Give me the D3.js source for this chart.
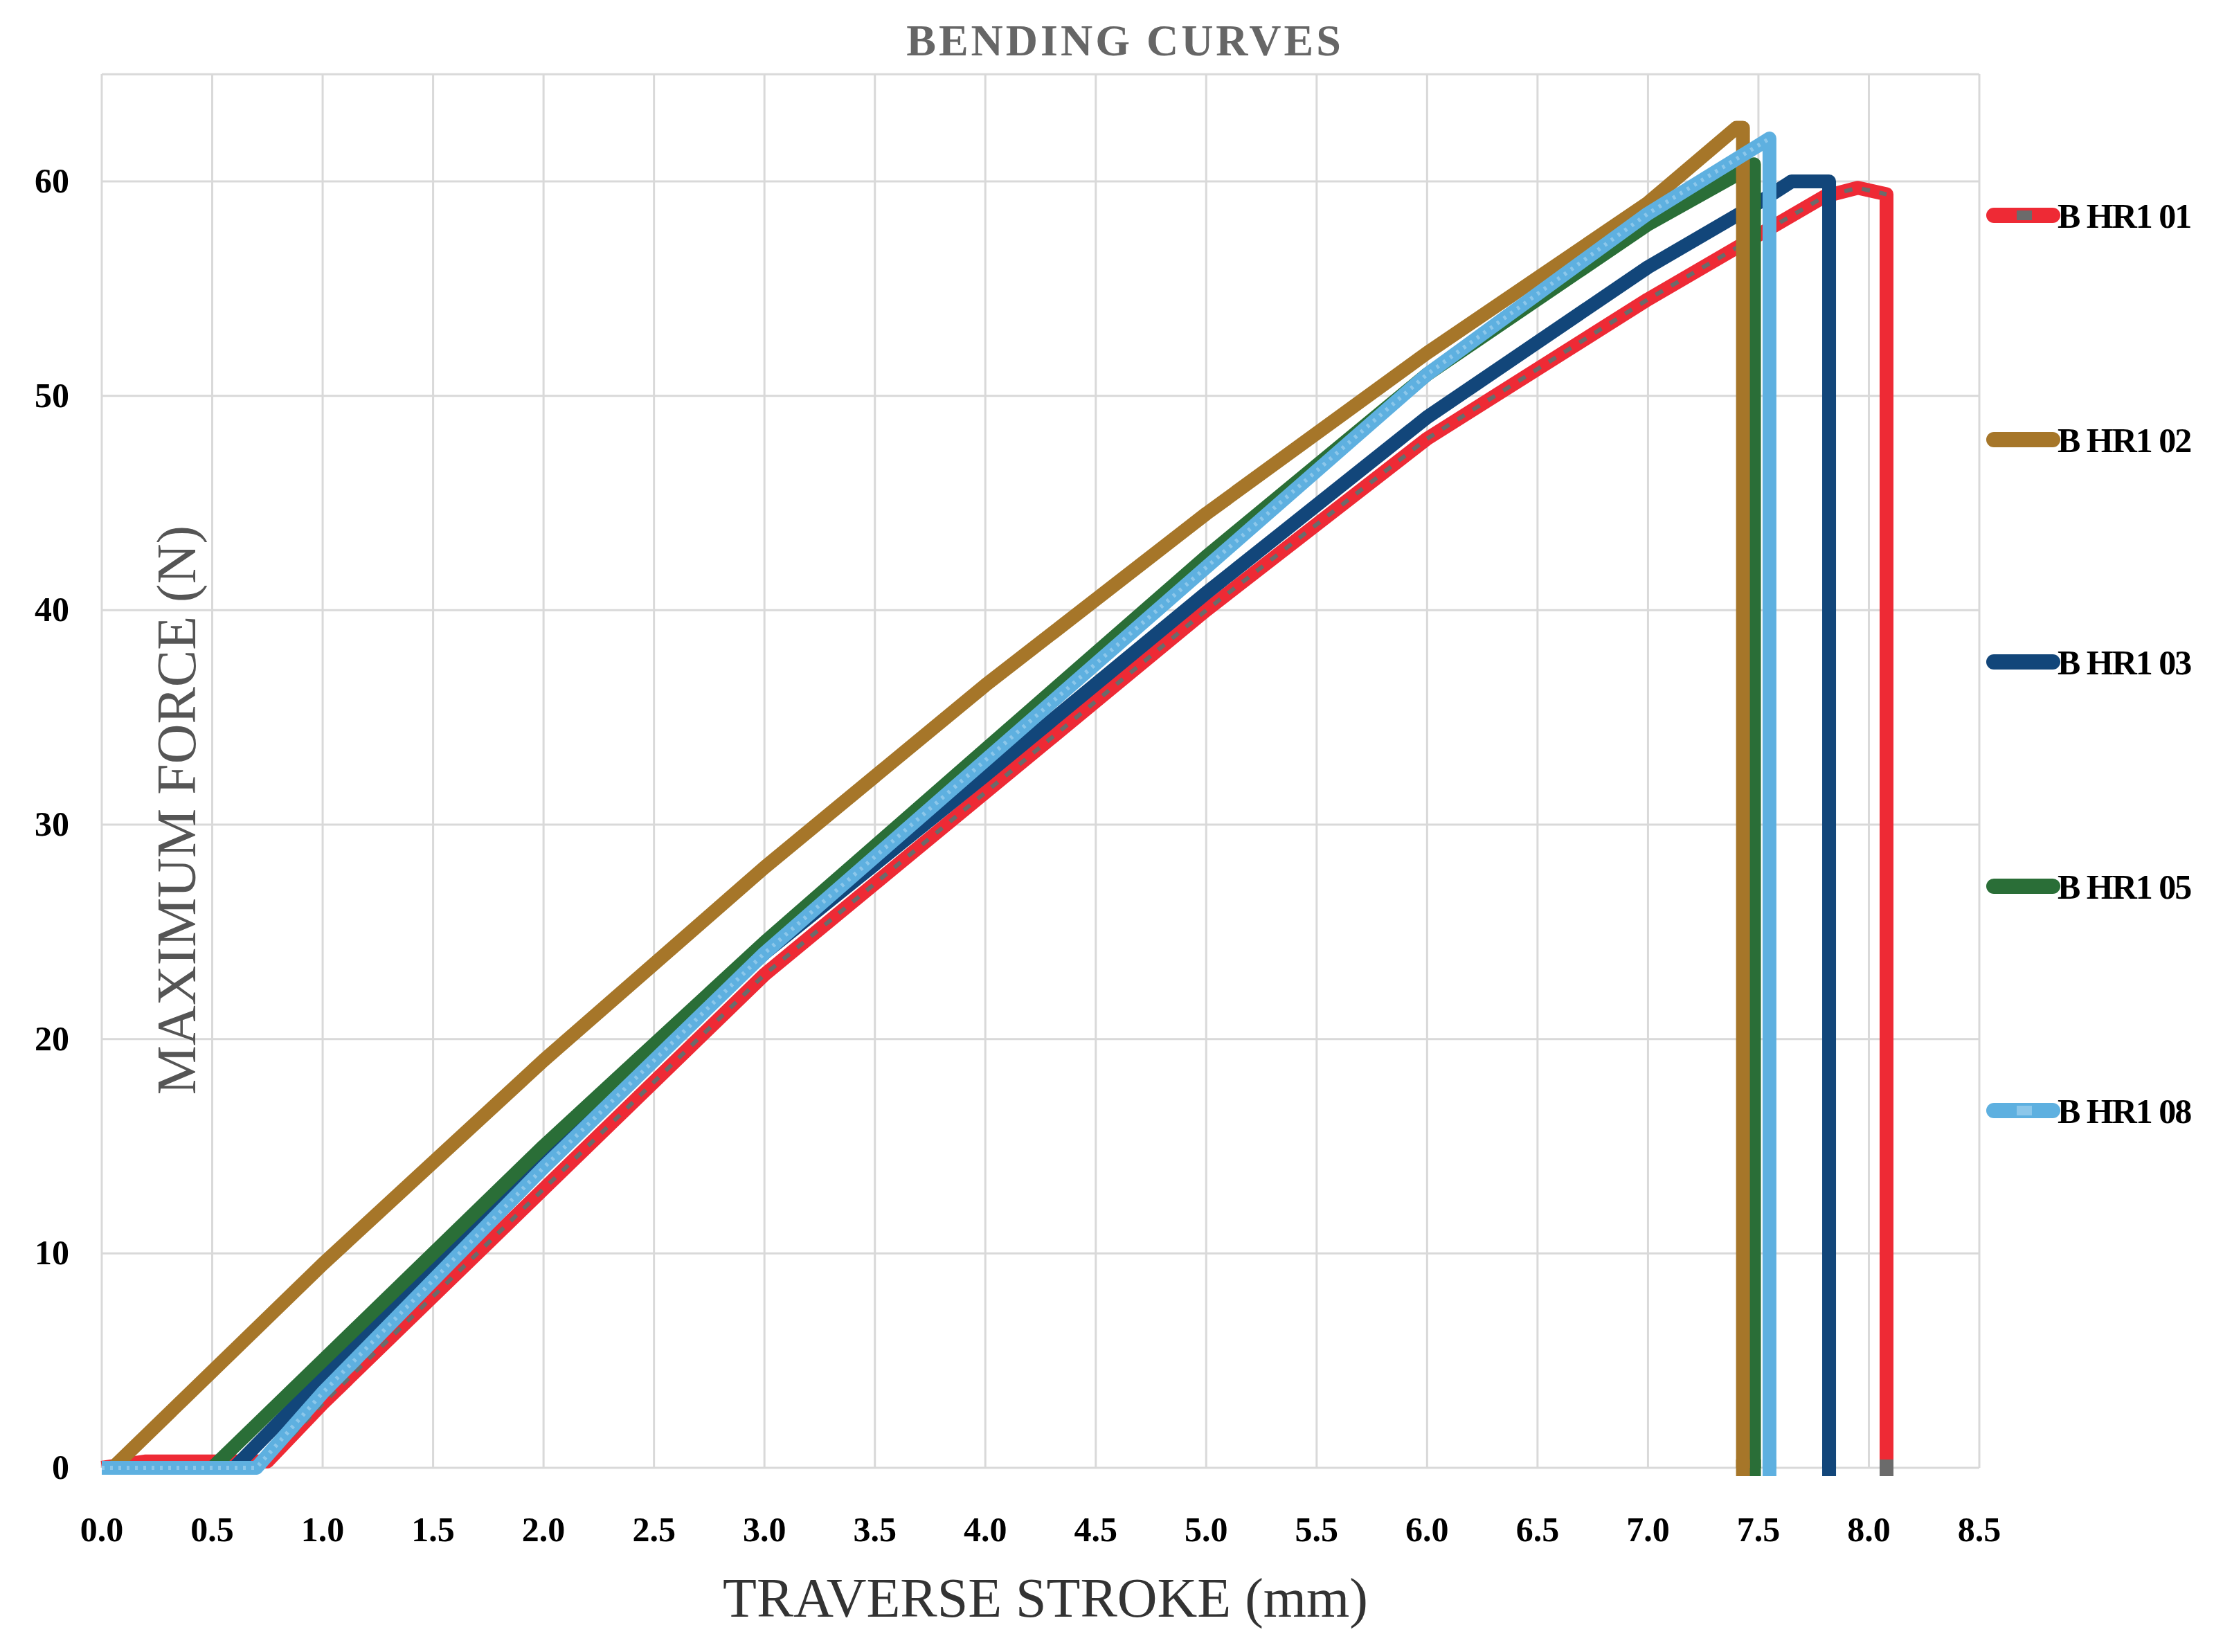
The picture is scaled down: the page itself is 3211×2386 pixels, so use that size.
<!DOCTYPE html>
<html><head><meta charset="utf-8">
<script src="https://cdn.jsdelivr.net/npm/d3@7"></script>
<style>body{margin:0;background:#fff}</style></head>
<body><svg id="c" width="3211" height="2386"></svg>
<script>
const seriesNames = ["B HR1 01","B HR1 02","B HR1 03","B HR1 05","B HR1 08"];
const seriesColors = ["#ee2a35","#a67629","#12467a","#2a6e37","#5eb0e0"];
const xTicks = [0,0.5,1,1.5,2,2.5,3,3.5,4,4.5,5,5.5,6,6.5,7,7.5,8,8.5];
const yTicks = [0,10,20,30,40,50,60];
const s01x = [0,0.2,0.75,1.0,2.0,3.0,4.0,5.0,6.0,7.0,7.5,7.8,7.95,8.08,8.08];
const s01y = [0,0.3,0.3,3,13,23,31.5,40,48,54.5,57.5,59.3,59.7,59.4,0];
const s02x = [0,0.05,1.0,2.0,3.0,4.0,5.0,6.0,7.0,7.4,7.43,7.43];
const s02y = [0,0,9.5,19,28,36.5,44.5,52,59,62.5,62.5,0];
const s03x = [0,0.6,1.0,2.0,3.0,4.0,5.0,6.0,7.0,7.5,7.65,7.82,7.82];
const s03y = [0,0,4.2,14.5,24,32.3,40.8,49,56,59,60,60,0];
const s05x = [0,0.5,1.0,2.0,3.0,4.0,5.0,6.0,7.0,7.4,7.48,7.48];
const s05y = [0,0,5,15,24.5,33.5,42.5,51,58,60.3,60.8,0];
const s08x = [0,0.7,1.0,2.0,3.0,4.0,5.0,6.0,7.0,7.55,7.55];
const s08y = [0,0,3.5,14,24,33,42,51,58.5,62,0];
const allX = [s01x,s02x,s03x,s05x,s08x];
const allY = [s01y,s02y,s03y,s05y,s08y];

const svg = d3.select("#c");
const x = d3.scaleLinear().domain([0,8.5]).range([147,2859]);
const y = d3.scaleLinear().domain([0,60]).range([2120,262]);
const g = svg.append("g");
// grid
g.selectAll(".vx").data(xTicks).join("line").attr("x1",d=>x(d)).attr("x2",d=>x(d))
 .attr("y1",107).attr("y2",y(0)).attr("stroke","#d9d9d9").attr("stroke-width",3);
g.selectAll(".hy").data(yTicks.concat([65])).join("line").attr("x1",x(0)).attr("x2",x(8.5))
 .attr("y1",d=>y(d)).attr("y2",d=>y(d)).attr("stroke","#d9d9d9").attr("stroke-width",3);
// tick labels
const tf = "'Liberation Serif','DejaVu Serif',serif";
g.selectAll(".xl").data(xTicks).join("text").attr("x",d=>x(d)).attr("y",2226)
 .attr("text-anchor","middle").attr("font-family",tf).attr("font-weight","bold").attr("font-size",50)
 .text(d=>d.toFixed(1));
g.selectAll(".yl").data(yTicks).join("text").attr("x",100).attr("y",d=>y(d)+16)
 .attr("text-anchor","end").attr("font-family",tf).attr("font-weight","bold").attr("font-size",50)
 .text(d=>d);
// lines
const line = d3.line().x(d=>x(d[0])).y(d=>y(d[1]));
const order = [0,2,3,1,4];
order.forEach(i=>{
  const pts = allX[i].map((v,k)=>[v,allY[i][k]]);
  svg.append("path").attr("d",line(pts)).attr("fill","none").attr("stroke",seriesColors[i])
   .attr("stroke-width",20).attr("stroke-linejoin","round");
  if(i===0) svg.append("path").attr("d",line(pts.slice(2,-1))).attr("fill","none").attr("stroke","#6b6b6b")
   .attr("stroke-width",6).attr("stroke-dasharray","12 14");
  if(i===4) svg.append("path").attr("d",line(pts.slice(0,-1))).attr("fill","none").attr("stroke","#8cc7ea")
   .attr("stroke-width",6).attr("stroke-dasharray","4 8");
  const last = pts[pts.length-1];
  svg.append("rect").attr("x",x(last[0])-10).attr("y",y(0)-12).attr("width",20).attr("height",24)
   .attr("fill",i===0?"#6b6b6b":seriesColors[i]);
});
// legend
const ly = [311,635,956,1280,1604];
seriesNames.forEach((n,i)=>{
  svg.append("line").attr("x1",2880).attr("x2",2965).attr("y1",ly[i]).attr("y2",ly[i])
   .attr("stroke",seriesColors[i]).attr("stroke-width",22).attr("stroke-linecap","round");
  svg.append("rect").attr("x",2913).attr("y",ly[i]-7).attr("width",22).attr("height",14)
   .attr("fill",i===0?"#6b6b6b":(i===4?"#8cc7ea":seriesColors[i]));
  svg.append("text").attr("x",2972).attr("y",ly[i]+18).attr("font-family",tf).attr("font-weight","bold")
   .attr("font-size",50).attr("letter-spacing",-2).text(n);
});
// titles
svg.append("text").attr("x",1625).attr("y",80).attr("text-anchor","middle").attr("font-family",tf)
 .attr("font-weight","bold").attr("font-size",64).attr("fill","#666").attr("letter-spacing",4).text("BENDING CURVES");
svg.append("text").attr("x",1510).attr("y",2335).attr("text-anchor","middle").attr("font-family",tf)
 .attr("font-size",80).attr("fill","#333").text("TRAVERSE STROKE (mm)");
svg.append("text").attr("transform","translate(282,1170) rotate(-90)").attr("text-anchor","middle")
 .attr("font-family",tf).attr("font-size",80).attr("fill","#555").text("MAXIMUM FORCE (N)");
</script></body></html>
